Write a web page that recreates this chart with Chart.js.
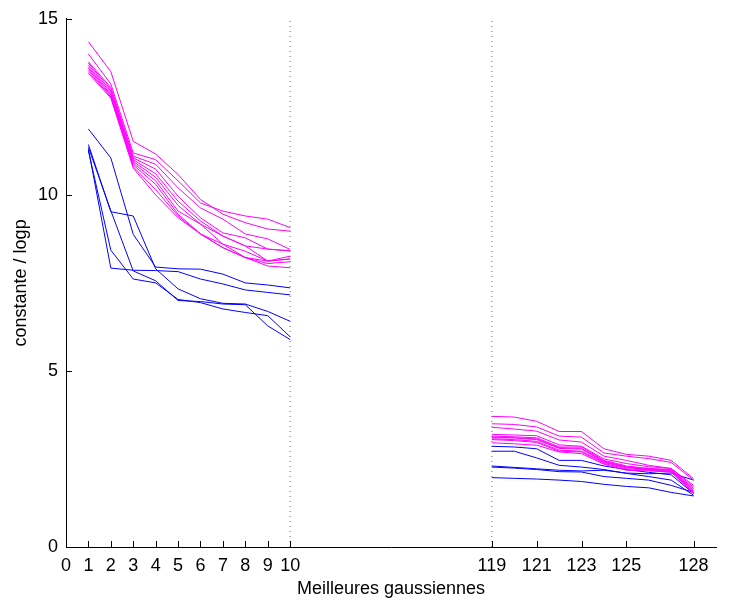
<!DOCTYPE html>
<html>
<head>
<meta charset="utf-8">
<script src="https://cdn.jsdelivr.net/npm/chart.js@4.4.1/dist/chart.umd.min.js"></script>
<style>
  html, body { margin: 0; padding: 0; background: #fff; }
  #wrap { width: 729px; height: 600px; }
</style>
</head>
<body>
<div id="wrap"><canvas id="chart"></canvas></div>
<script>
// positions on the compressed axis: 1..10 for the best ones, 19..28 for 119..128
const leftX = [1, 2, 3, 4, 5, 6, 7, 8, 9, 10];
const rightX = [19, 20, 21, 22, 23, 24, 25, 26, 27, 28];
const tickValues = [0, 1, 2, 3, 4, 5, 6, 7, 8, 9, 10, 19, 21, 23, 25, 28];
const tickLabels = ['0', '1', '2', '3', '4', '5', '6', '7', '8', '9', '10', '119', '121', '123', '125', '128'];
const separators = [10, 19];

// magenta series, first 10 gaussians
const magentaLeft1 = [14.35, 13.50, 11.52, 11.16, 10.58, 9.87, 9.45, 9.21, 9.03, 8.97];
const magentaLeft2 = [14.00, 13.15, 11.19, 11.00, 10.40, 9.77, 9.54, 9.40, 9.31, 9.07];
const magentaLeft3 = [13.78, 13.05, 11.10, 10.87, 10.20, 9.63, 9.31, 8.89, 8.75, 8.45];
const magentaLeft4 = [13.74, 13.00, 11.05, 10.73, 9.96, 9.35, 8.92, 8.78, 8.46, 8.41];
const magentaLeft5 = [13.69, 12.95, 11.00, 10.60, 9.82, 9.26, 8.83, 8.55, 8.46, 8.41];
const magentaLeft6 = [13.64, 12.90, 10.95, 10.50, 9.70, 9.17, 8.83, 8.55, 8.12, 8.26];
const magentaLeft7 = [13.60, 12.85, 10.90, 10.40, 9.54, 9.17, 8.60, 8.22, 8.12, 8.18];
const magentaLeft8 = [13.55, 12.82, 10.85, 10.30, 9.45, 8.89, 8.60, 8.40, 8.12, 8.18];
const magentaLeft9 = [13.50, 12.78, 10.80, 10.15, 9.40, 8.89, 8.50, 8.22, 7.98, 7.93];
const magentaLeft10 = [13.45, 12.75, 10.76, 10.00, 9.35, 8.89, 8.50, 8.22, 8.05, 8.10];

// magenta series, gaussians 119..128
const magentaRight1 = [3.71, 3.69, 3.57, 3.28, 3.28, 2.79, 2.63, 2.58, 2.46, 1.94];
const magentaRight2 = [3.50, 3.48, 3.41, 3.15, 3.12, 2.67, 2.58, 2.51, 2.40, 1.90];
const magentaRight3 = [3.40, 3.35, 3.29, 3.04, 2.98, 2.58, 2.46, 2.32, 2.23, 1.75];
const magentaRight4 = [3.20, 3.18, 3.16, 2.90, 2.86, 2.50, 2.37, 2.28, 2.23, 1.70];
const magentaRight5 = [3.15, 3.13, 3.10, 2.84, 2.84, 2.46, 2.30, 2.23, 2.20, 1.66];
const magentaRight6 = [3.10, 3.10, 3.05, 2.80, 2.78, 2.42, 2.27, 2.20, 2.18, 1.62];
const magentaRight7 = [3.07, 3.05, 3.00, 2.75, 2.72, 2.40, 2.25, 2.20, 2.15, 1.57];
const magentaRight8 = [3.05, 3.02, 2.97, 2.72, 2.70, 2.37, 2.22, 2.18, 2.13, 1.55];
const magentaRight9 = [2.96, 2.93, 2.89, 2.70, 2.65, 2.35, 2.18, 2.16, 2.13, 1.52];
const magentaRight10 = [3.12, 3.10, 3.07, 2.82, 2.80, 2.44, 2.28, 2.22, 2.18, 1.60];

// blue series
const blueLeft1 = [11.87, 11.05, 8.88, 7.95, 7.90, 7.89, 7.75, 7.50, 7.44, 7.36];
const blueLeft2 = [11.30, 7.92, 7.86, 7.85, 7.82, 7.61, 7.47, 7.30, 7.23, 7.16];
const blueLeft3 = [11.43, 9.52, 9.40, 7.90, 7.33, 7.05, 6.92, 6.90, 6.69, 6.41];
const blueLeft4 = [11.35, 9.55, 7.84, 7.56, 7.00, 6.97, 6.90, 6.88, 6.28, 5.89];
const blueLeft5 = [11.25, 8.43, 7.61, 7.50, 7.03, 6.94, 6.76, 6.66, 6.57, 5.97];

const blueRight1 = [2.86, 2.84, 2.79, 2.46, 2.46, 2.30, 2.20, 2.12, 2.05, 1.52];
const blueRight2 = [2.72, 2.72, 2.53, 2.32, 2.27, 2.20, 2.09, 2.00, 1.90, 1.47];
const blueRight3 = [2.30, 2.26, 2.22, 2.18, 2.16, 2.18, 2.10, 2.08, 2.10, 1.90];
const blueRight4 = [2.27, 2.24, 2.20, 2.14, 2.13, 2.00, 1.95, 1.90, 1.75, 1.55];
const blueRight5 = [1.97, 1.95, 1.93, 1.90, 1.86, 1.78, 1.72, 1.68, 1.55, 1.45];

const magentaSeries = [
    [magentaLeft1, magentaRight1], [magentaLeft2, magentaRight2], [magentaLeft3, magentaRight3],
    [magentaLeft4, magentaRight4], [magentaLeft5, magentaRight5], [magentaLeft6, magentaRight6],
    [magentaLeft7, magentaRight7], [magentaLeft8, magentaRight8], [magentaLeft9, magentaRight9],
    [magentaLeft10, magentaRight10]
];
const blueSeries = [
    [blueLeft1, blueRight1], [blueLeft2, blueRight2], [blueLeft3, blueRight3],
    [blueLeft4, blueRight4], [blueLeft5, blueRight5]
];

const font = { family: '"Liberation Sans", Arial, Helvetica, sans-serif', size: 18 };

function lineSet(xs, ys, color) {
    return {
        data: xs.map((x, i) => ({ x, y: ys[i] })),
        borderColor: color,
        borderWidth: 1,
        pointRadius: 0,
        fill: false,
        tension: 0
    };
}

const datasets = [];
separators.forEach(x => {
    datasets.push({
        data: [{ x, y: 0 }, { x, y: 15 }],
        borderColor: '#666',
        borderWidth: 1,
        borderDash: [1, 4],
        pointRadius: 0
    });
});
magentaSeries.forEach(([l, r]) => {
    datasets.push(lineSet(leftX, l, '#ff00ff'));
    datasets.push(lineSet(rightX, r, '#ff00ff'));
});
blueSeries.forEach(([l, r]) => {
    datasets.push(lineSet(leftX, l, '#0000ff'));
    datasets.push(lineSet(rightX, r, '#0000ff'));
});

// matlab style ticks pointing into the plot
const innerTicks = {
    id: 'innerTicks',
    afterDraw(chart) {
        const { ctx, chartArea, scales } = chart;
        ctx.save();
        ctx.strokeStyle = '#000';
        ctx.lineWidth = 1;
        ctx.beginPath();
        scales.x.ticks.forEach(t => {
            const px = Math.round(scales.x.getPixelForValue(t.value)) + 0.5;
            ctx.moveTo(px, chartArea.bottom);
            ctx.lineTo(px, chartArea.bottom - 6);
        });
        scales.y.ticks.forEach(t => {
            const py = Math.round(scales.y.getPixelForValue(t.value)) + 0.5;
            ctx.moveTo(chartArea.left, py);
            ctx.lineTo(chartArea.left + 6, py);
        });
        ctx.stroke();
        ctx.restore();
    }
};

new Chart(document.getElementById('chart'), {
    type: 'line',
    data: { datasets },
    plugins: [innerTicks],
    options: {
        responsive: true,
        maintainAspectRatio: false,
        animation: false,
        layout: { padding: { top: 17, right: 13, left: 0, bottom: 0 } },
        plugins: { legend: { display: false }, tooltip: { enabled: false } },
        scales: {
            x: {
                type: 'linear',
                min: 0,
                max: 29,
                afterBuildTicks: s => { s.ticks = tickValues.map(v => ({ value: v })); },
                afterFit: s => { s.height = 53; },
                grid: { display: false, drawTicks: false },
                border: { display: true, color: '#000', width: 1 },
                ticks: {
                    autoSkip: false,
                    maxRotation: 0,
                    padding: 8,
                    color: '#000',
                    font,
                    callback: v => tickLabels[tickValues.indexOf(v)]
                },
                title: {
                    display: true,
                    text: 'Meilleures gaussiennes',
                    color: '#000',
                    font,
                    padding: { top: 0, bottom: 0 }
                }
            },
            y: {
                min: 0,
                max: 15,
                afterFit: s => { s.width = 66; },
                grid: { display: false, drawTicks: false },
                border: { display: true, color: '#000', width: 1 },
                ticks: { stepSize: 5, padding: 8, color: '#000', font },
                title: {
                    display: true,
                    text: 'constante / logp',
                    color: '#000',
                    font,
                    padding: { top: 10, bottom: 0 }
                }
            }
        }
    }
});
</script>
</body>
</html>
